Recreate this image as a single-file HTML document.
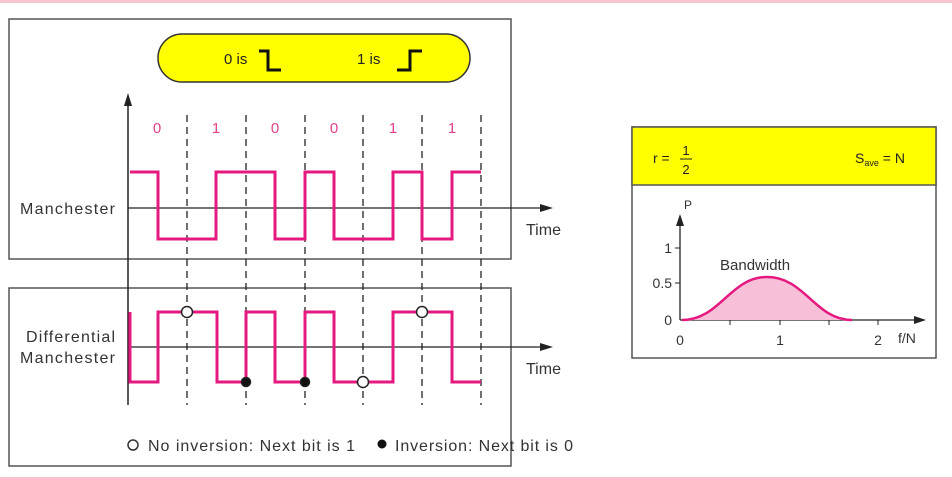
<!DOCTYPE html>
<html><head><meta charset="utf-8"><style>
html,body{margin:0;padding:0;background:#fff;}
svg{display:block;font-family:"Liberation Sans",sans-serif;}
</style></head><body>
<svg width="952" height="477" viewBox="0 0 952 477" xmlns="http://www.w3.org/2000/svg">
<rect x="0" y="0" width="952" height="3" fill="#f6c6cf"/>
<rect x="9" y="19" width="502" height="240" fill="#fff" stroke="#555" stroke-width="1.5"/>
<rect x="9" y="288" width="502" height="178" fill="#fff" stroke="#555" stroke-width="1.5"/>
<rect x="158" y="34" width="312" height="48" rx="24" fill="#ffff00" stroke="#333" stroke-width="1.5"/>
<text x="224" y="64" font-size="15" fill="#222">0 is</text>
<path d="M259 51 H268 V70 H281" fill="none" stroke="#111" stroke-width="3"/>
<text x="357" y="64" font-size="15" fill="#222">1 is</text>
<path d="M397 70 H410 V51 H422" fill="none" stroke="#111" stroke-width="3"/>
<line x1="128" y1="100" x2="128" y2="405" stroke="#222" stroke-width="1.5"/>
<polygon points="128,93 124,106 132,106" fill="#222"/>
<g stroke="#222" stroke-width="1.3" stroke-dasharray="7,5">
<line x1="187" y1="115" x2="187" y2="405"/><line x1="246" y1="115" x2="246" y2="405"/>
<line x1="305" y1="115" x2="305" y2="405"/><line x1="363" y1="115" x2="363" y2="405"/>
<line x1="422" y1="115" x2="422" y2="405"/><line x1="481" y1="115" x2="481" y2="405"/>
</g>
<g fill="#e0408a" font-size="15" text-anchor="middle">
<text x="157" y="133">0</text><text x="216" y="133">1</text><text x="275" y="133">0</text>
<text x="334" y="133">0</text><text x="393" y="133">1</text><text x="452" y="133">1</text>
</g>
<line x1="128" y1="208" x2="545" y2="208" stroke="#222" stroke-width="1.3"/>
<polygon points="553,208 540,204 540,212" fill="#222"/>
<text x="20" y="214" font-size="16" fill="#333" textLength="95">Manchester</text>
<text x="526" y="235" font-size="16" fill="#333">Time</text>
<path d="M130 172 H158 V239 H216 V172 H275 V239 H305 V172 H334 V239 H393 V172 H422 V239 H452 V172 H481" fill="none" stroke="#e5197f" stroke-width="3"/>
<line x1="128" y1="347" x2="545" y2="347" stroke="#222" stroke-width="1.3"/>
<polygon points="553,347 540,343 540,351" fill="#222"/>
<text x="26" y="342" font-size="16" fill="#333" textLength="89">Differential</text>
<text x="20" y="363" font-size="16" fill="#333" textLength="95">Manchester</text>
<text x="526" y="374" font-size="16" fill="#333">Time</text>
<path d="M130 312 V382 H158 V312 H217 V382 H246 V312 H275 V382 H305 V312 H334 V382 H393 V312 H452 V382 H481" fill="none" stroke="#e5197f" stroke-width="3"/>
<g stroke="#222" stroke-width="1.5">
<circle cx="187" cy="312" r="5.5" fill="#fff"/><circle cx="363" cy="382" r="5.5" fill="#fff"/><circle cx="422" cy="312" r="5.5" fill="#fff"/>
<circle cx="246" cy="382" r="4.5" fill="#111"/><circle cx="305" cy="382" r="4.5" fill="#111"/>
</g>
<circle cx="133" cy="445" r="5" fill="#fff" stroke="#333" stroke-width="1.5"/>
<text x="148" y="451" font-size="16" fill="#333" textLength="207">No inversion: Next bit is 1</text>
<circle cx="382" cy="444" r="4.5" fill="#111"/>
<text x="395" y="451" font-size="16" fill="#333" textLength="178">Inversion: Next bit is 0</text>
<rect x="632" y="127" width="304" height="231" fill="#fff" stroke="#555" stroke-width="1.5"/>
<rect x="632" y="127" width="304" height="58" fill="#ffff00" stroke="#555" stroke-width="1.5"/>
<text x="653" y="163" font-size="14" fill="#222">r =</text>
<text x="686" y="155" font-size="13" fill="#222" text-anchor="middle">1</text>
<line x1="680" y1="159" x2="692" y2="159" stroke="#222" stroke-width="1"/>
<text x="686" y="174" font-size="13" fill="#222" text-anchor="middle">2</text>
<text x="855" y="163" font-size="14" fill="#222">S<tspan font-size="9" dy="3">ave</tspan><tspan dy="-3"> = N</tspan></text>
<text x="684" y="209" font-size="12" fill="#333">P</text>
<line x1="680" y1="222" x2="680" y2="320" stroke="#222" stroke-width="1.3"/>
<polygon points="680,214 676,226 684,226" fill="#222"/>
<line x1="680" y1="320" x2="918" y2="320" stroke="#222" stroke-width="1.3"/>
<polygon points="926,320 914,316 914,324" fill="#222"/>
<g stroke="#222" stroke-width="1"><line x1="675" y1="248" x2="680" y2="248"/><line x1="675" y1="283" x2="680" y2="283"/>
<line x1="730" y1="320" x2="730" y2="325"/><line x1="780" y1="320" x2="780" y2="325"/><line x1="829" y1="320" x2="829" y2="325"/><line x1="878" y1="320" x2="878" y2="325"/></g>
<g font-size="14" fill="#333" text-anchor="end"><text x="672" y="253">1</text><text x="672" y="288">0.5</text><text x="672" y="325">0</text></g>
<g font-size="14" fill="#333" text-anchor="middle"><text x="680" y="345">0</text><text x="780" y="345">1</text><text x="878" y="345">2</text></g>
<text x="898" y="343" font-size="14" fill="#333">f/N</text>
<text x="720" y="270" font-size="15" fill="#333">Bandwidth</text>
<path d="M682 320 C720 320 730 277 767 277 C805 277 815 320 852 320 Z" fill="#f7c0d8"/>
<path d="M682 320 C720 320 730 277 767 277 C805 277 815 320 852 320" fill="none" stroke="#e5197f" stroke-width="2.5"/>
</svg>
</body></html>
